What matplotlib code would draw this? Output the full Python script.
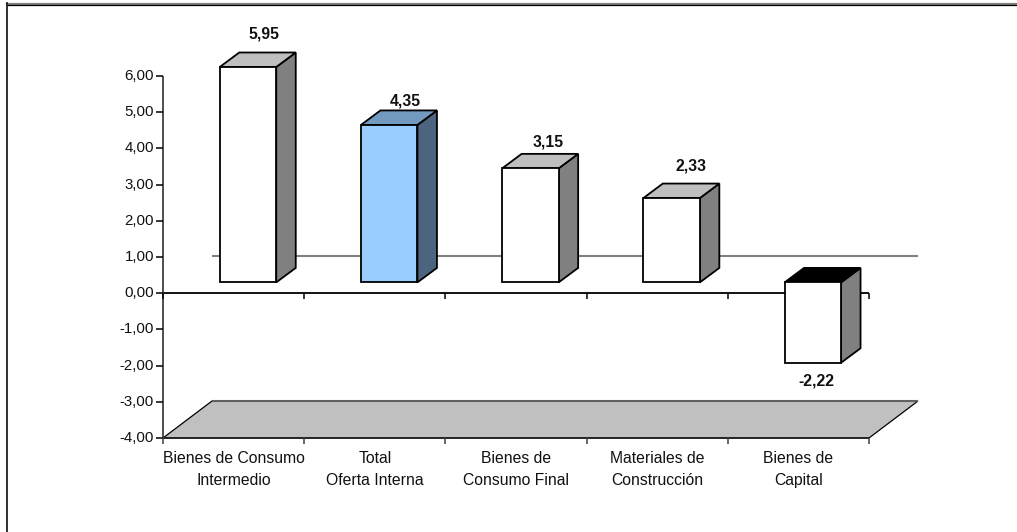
import matplotlib
matplotlib.use("Agg")
import matplotlib.pyplot as plt
from matplotlib.patches import Polygon

categories = [
    "Bienes de Consumo\nIntermedio",
    "Total\nOferta Interna",
    "Bienes de\nConsumo Final",
    "Materiales de\nConstrucción",
    "Bienes de\nCapital",
]
values = [5.95, 4.35, 3.15, 2.33, -2.22]
tick_values = [6, 5, 4, 3, 2, 1, 0, -1, -2, -3, -4]

plt.rcParams["font.family"] = ["Liberation Sans", "DejaVu Sans"]

W, H = 1017, 532
fig = plt.figure(figsize=(W / 100, H / 100), dpi=100)
fig.patch.set_facecolor("white")

# plot area in pixels: x 163-869, y 76 (6.00) to 438 (-4.00)
ax = fig.add_axes([163 / W, 1 - 438 / H, (869 - 163) / W, (438 - 76) / H])
ax.set_xlim(0, 5)
ax.set_ylim(-4, 6)
ax.patch.set_visible(False)
for s in ax.spines.values():
    s.set_visible(False)
ax.set_xticks([])
ax.set_yticks([])

PX = 5 / 706  # data units per pixel, x
PY = 10 / 362  # data units per pixel, y
DEPTH_X, DEPTH_Y = 49 * PX, 37 * PY  # full depth of the floor
BAR_DX, BAR_DY = 14.4 * PX, 10.8 * PY  # bar front relative to axis plane
SIDE_X, SIDE_Y = 19.5 * PX, 14.5 * PY  # bar depth
BAR_W = 0.4

# nudge of each value label from the bar centre, in pixels
label_nudge_x = [16, 16, 18, 19, 4]
label_nudge_y = [19, 9.5, 12, 18, 18]


def poly(pts, fc, lw=1.3, ec="black", z=3):
    ax.add_patch(Polygon(pts, closed=True, fc=fc, ec=ec, lw=lw, zorder=z, clip_on=False))


def line(xs, ys, color="black", lw=1.2, z=2):
    ax.plot(xs, ys, color=color, lw=lw, zorder=z, clip_on=False, solid_capstyle="butt")


# floor
poly([(0, -4), (5, -4), (5 + DEPTH_X, -4 + DEPTH_Y), (DEPTH_X, -4 + DEPTH_Y)], "#c0c0c0", lw=0.9, z=1)
line([DEPTH_X, 5 + DEPTH_X], [-4 + DEPTH_Y] * 2, color="#606060", lw=1.5, z=1.1)
line([0, 5], [-4, -4], color="#202020", z=1.2)

# back wall zero line
line([DEPTH_X, 5 + DEPTH_X], [DEPTH_Y, DEPTH_Y], color="#808080", lw=1.5, z=1)

# axes lines and ticks
line([0, 5], [0, 0], lw=1.3)
line([0, 0], [-4, 6], color="#404040", lw=1.3)
for t in tick_values:
    line([-7 * PX, 0], [t, t], lw=1.1)
    ax.text(-9 * PX, t, f"{t:.2f}".replace(".", ","), ha="right", va="center", fontsize=10.8, color="#111111")
for i in range(6):
    line([i, i], [0, -6 * PY], lw=1.1)
    line([i, i], [-4, -4 - 6 * PY], color="#404040", lw=1.1)

for i, c in enumerate(categories):
    ax.text(i + 0.5, -4 - 13 * PY, c, ha="center", va="top", fontsize=11.3, color="#111111", linespacing=1.58)

# bars
for i, v in enumerate(values):
    x0 = i + 0.5 + BAR_DX - BAR_W / 2
    x1 = x0 + BAR_W
    y0 = BAR_DY
    y1 = v + BAR_DY
    front = "#99ccff" if i == 1 else "white"
    side = "#4d6480" if i == 1 else "#808080"
    if i == 1:
        top = "#739abf"
    elif v < 0:
        top = "black"
    else:
        top = "#bfbfbf"
    yt, yb = max(y0, y1), min(y0, y1)
    poly([(x1, yb), (x1 + SIDE_X, yb + SIDE_Y), (x1 + SIDE_X, yt + SIDE_Y), (x1, yt)], side)
    poly([(x0, yt), (x1, yt), (x1 + SIDE_X, yt + SIDE_Y), (x0 + SIDE_X, yt + SIDE_Y)], top)
    poly([(x0, yb), (x1, yb), (x1, yt), (x0, yt)], front)
    if v >= 0:
        ty = yt + SIDE_Y + label_nudge_y[i] * PY
    else:
        ty = yb - label_nudge_y[i] * PY
    ax.text(x0 + 0.5 * BAR_W + label_nudge_x[i] * PX, ty, f"{v:.2f}".replace(".", ","), ha="center", va="center",
            fontsize=11.3, fontweight="bold", color="#111111")

# chart frame: only the top and left edges fall inside the picture
fig.add_artist(plt.Line2D([6.5 / W, 1], [1 - 3.5 / H, 1 - 3.5 / H], color="#808080", lw=1.6))
fig.add_artist(plt.Line2D([6.5 / W, 1], [1 - 4.5 / H, 1 - 4.5 / H], color="black", lw=0.9))
fig.add_artist(plt.Line2D([6.5 / W, 6.5 / W], [0, 1 - 3 / H], color="#202020", lw=1.3))

fig.savefig("out.png", dpi=100)
